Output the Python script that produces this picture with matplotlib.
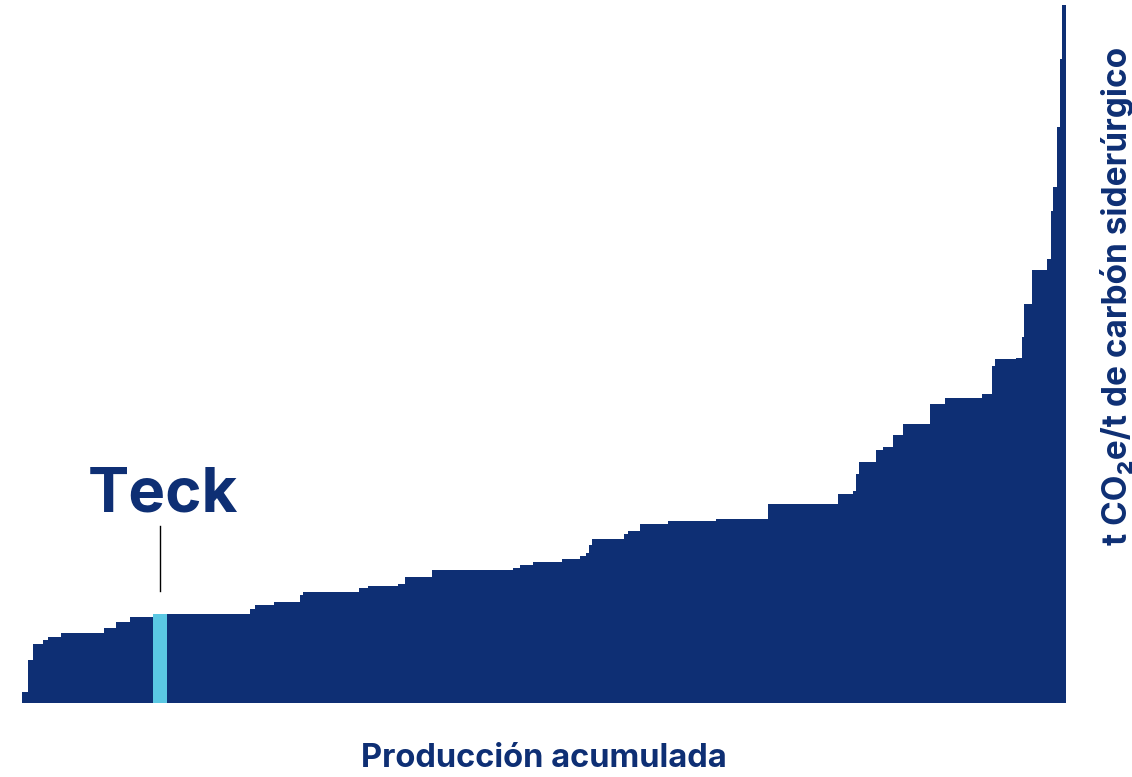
import matplotlib
matplotlib.use("Agg")
import matplotlib.pyplot as plt
import numpy as np

plt.rcParams['font.family'] = ['Inter', 'DejaVu Sans']

# production per mine (relative units) and emission intensity, ordered low -> high
produccion = [6, 5, 10, 4.5, 13.5, 43, 12, 14, 23, 14,
              83, 5, 19, 26, 3, 56, 9, 14, 16, 7,
              27, 81, 7, 13, 29, 18, 6, 3, 3, 32,
              4, 12, 28, 48, 52, 70, 15, 3, 3, 17,
              7, 10, 10, 27, 15, 37, 10, 3, 21, 6,
              2, 8, 15, 4, 1.7, 4.6, 2.7, 2.3, 3.7]
intensidad = [0.113, 0.43, 0.59, 0.63, 0.663, 0.697, 0.753, 0.813, 0.863, 0.89,
              0.887, 0.937, 0.977, 1.013, 1.077, 1.107, 1.153, 1.17, 1.175, 1.187,
              1.257, 1.33, 1.347, 1.38, 1.407, 1.437, 1.467, 1.503, 1.58, 1.637,
              1.69, 1.72, 1.793, 1.817, 1.837, 1.995, 2.09, 2.123, 2.287, 2.407,
              2.533, 2.563, 2.68, 2.79, 2.987, 3.047, 3.087, 3.373, 3.437, 3.453,
              3.657, 3.987, 4.33, 4.44, 4.92, 5.16, 5.76, 6.445, 6.98]
teck_idx = 9

navy = '#0e2f74'
light = '#5bc8e3'

edges = np.concatenate([[0], np.cumsum(produccion)])

fig = plt.figure(figsize=(11.32, 7.77), dpi=100)
ax = fig.add_axes([22 / 1132, 74 / 777, 1044 / 1132, 698 / 777])

ax.stairs(intensidad, edges, fill=True, color=navy, linewidth=0)
ax.bar(edges[teck_idx], intensidad[teck_idx], width=produccion[teck_idx],
       align='edge', color=light, linewidth=0)

teck_x = edges[teck_idx] + produccion[teck_idx] / 2
teck_h = intensidad[teck_idx]
ax.plot([teck_x, teck_x], [teck_h + 0.235, teck_h + 0.88], color='black', lw=1)
ax.text(teck_x + 2.5, teck_h + 1.03, 'Teck', ha='center', va='baseline',
        fontsize=44.5, fontweight='bold', color=navy)

ax.set_xlim(0, edges[-1])
ax.set_ylim(0, max(intensidad))
for s in ax.spines.values():
    s.set_visible(False)
ax.set_xticks([])
ax.set_yticks([])

ax.set_xlabel('Producción acumulada', fontsize=23.5, fontweight='bold',
              color=navy, labelpad=29)
fig.text(1117 / 1132, 1 - 296 / 777, 't CO₂e/t de carbón siderúrgico',
         rotation=90, ha='center', va='center', fontsize=24,
         fontweight='bold', color=navy)

fig.savefig('out.png', dpi=100)
